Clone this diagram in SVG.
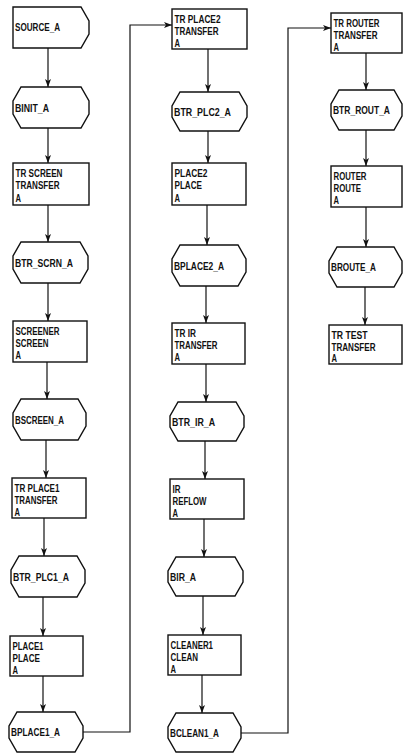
<svg xmlns="http://www.w3.org/2000/svg" width="403" height="754" viewBox="0 0 403 754">
<style>
.n{fill:#fff;stroke:#111;stroke-width:1.4}
.c{fill:none;stroke:#111;stroke-width:1.2}
text{font-family:"Liberation Sans",Arial,sans-serif;font-weight:bold;font-size:10.5px;fill:#111}
</style>
<defs>
<marker id="ah" markerUnits="userSpaceOnUse" markerWidth="9" markerHeight="7" refX="8" refY="3.5" orient="auto">
<path d="M0,0.5 L8,3.5 L0,6.5 L2,3.5 z" fill="#111"/>
</marker>
</defs>
<rect width="403" height="754" fill="#fff"/>
<g id="connectors" class="c" marker-end="url(#ah)">
<line x1="48" y1="48" x2="48" y2="87"/>
<line x1="48" y1="128" x2="48" y2="163"/>
<line x1="48" y1="205" x2="48" y2="242"/>
<line x1="48" y1="283" x2="48" y2="321"/>
<line x1="47" y1="362" x2="47" y2="399"/>
<line x1="46" y1="440" x2="46" y2="478"/>
<line x1="44" y1="518" x2="44" y2="556"/>
<line x1="43" y1="597" x2="43" y2="636"/>
<line x1="43" y1="676" x2="43" y2="712"/>
<line x1="208" y1="49" x2="208" y2="92"/>
<line x1="208" y1="131" x2="208" y2="163"/>
<line x1="207" y1="205" x2="207" y2="245"/>
<line x1="206" y1="286" x2="206" y2="323"/>
<line x1="206" y1="364" x2="206" y2="402"/>
<line x1="205" y1="441" x2="205" y2="479"/>
<line x1="204" y1="519" x2="204" y2="557"/>
<line x1="203" y1="596" x2="203" y2="635"/>
<line x1="202" y1="675" x2="202" y2="713"/>
<line x1="366" y1="53" x2="366" y2="90"/>
<line x1="366" y1="130" x2="366" y2="166"/>
<line x1="366" y1="207" x2="366" y2="247"/>
<line x1="365" y1="287" x2="365" y2="325"/>
<polyline points="83,732 130,732 130,25 172,25"/>
<polyline points="241,733 288,733 288,28 331,28"/>
</g>
<g id="SOURCE_A"><polygon class="n" points="13,7 81,7 89,21 89,34 81,48 13,48"/><text x="15" y="31" textLength="45" lengthAdjust="spacingAndGlyphs">SOURCE_A</text></g>
<g id="BINIT_A"><polygon class="n" points="21,87 81,87 89,101 89,114 81,128 21,128 13,114 13,101"/><text x="15" y="111.5" textLength="34" lengthAdjust="spacingAndGlyphs">BINIT_A</text></g>
<g id="TR_SCREEN"><rect class="n" x="13" y="163" width="76" height="42"/><text x="15.5" y="177" textLength="47" lengthAdjust="spacingAndGlyphs">TR SCREEN</text><text x="15.5" y="189" textLength="44" lengthAdjust="spacingAndGlyphs">TRANSFER</text><text x="15.5" y="201.5" textLength="5.5" lengthAdjust="spacingAndGlyphs">A</text></g>
<g id="BTR_SCRN_A"><polygon class="n" points="21,242 80,242 88,256 88,269 80,283 21,283 13,269 13,256"/><text x="15" y="266.5" textLength="58" lengthAdjust="spacingAndGlyphs">BTR_SCRN_A</text></g>
<g id="SCREENER"><rect class="n" x="13" y="321" width="74" height="41"/><text x="15.5" y="334.5" textLength="44" lengthAdjust="spacingAndGlyphs">SCREENER</text><text x="15.5" y="346.5" textLength="33" lengthAdjust="spacingAndGlyphs">SCREEN</text><text x="15.5" y="358.5" textLength="5.5" lengthAdjust="spacingAndGlyphs">A</text></g>
<g id="BSCREEN_A"><polygon class="n" points="21,399 78,399 86,413 86,426 78,440 21,440 13,426 13,413"/><text x="15" y="423.5" textLength="49" lengthAdjust="spacingAndGlyphs">BSCREEN_A</text></g>
<g id="TR_PLACE1"><rect class="n" x="12" y="478" width="74" height="40"/><text x="14.5" y="491.5" textLength="45" lengthAdjust="spacingAndGlyphs">TR PLACE1</text><text x="14.5" y="503.5" textLength="43" lengthAdjust="spacingAndGlyphs">TRANSFER</text><text x="14.5" y="515.5" textLength="5.5" lengthAdjust="spacingAndGlyphs">A</text></g>
<g id="BTR_PLC1_A"><polygon class="n" points="19,556 77,556 85,570 85,583 77,597 19,597 11,583 11,570"/><text x="13" y="580.5" textLength="56" lengthAdjust="spacingAndGlyphs">BTR_PLC1_A</text></g>
<g id="PLACE1"><rect class="n" x="10" y="636" width="73" height="40"/><text x="12.5" y="649.5" textLength="31" lengthAdjust="spacingAndGlyphs">PLACE1</text><text x="12.5" y="661.5" textLength="27.5" lengthAdjust="spacingAndGlyphs">PLACE</text><text x="12.5" y="673.5" textLength="5.5" lengthAdjust="spacingAndGlyphs">A</text></g>
<g id="BPLACE1_A"><polygon class="n" points="17,712 75,712 83,726 83,738 75,752 17,752 9,738 9,726"/><text x="11" y="736" textLength="49" lengthAdjust="spacingAndGlyphs">BPLACE1_A</text></g>
<g id="TR_PLACE2"><rect class="n" x="172" y="9" width="75" height="40"/><text x="174.5" y="22.5" textLength="46" lengthAdjust="spacingAndGlyphs">TR PLACE2</text><text x="174.5" y="34.5" textLength="44" lengthAdjust="spacingAndGlyphs">TRANSFER</text><text x="174.5" y="46.5" textLength="5.5" lengthAdjust="spacingAndGlyphs">A</text></g>
<g id="BTR_PLC2_A"><polygon class="n" points="180,92 239,92 247,106 247,117 239,131 180,131 172,117 172,106"/><text x="174" y="115.5" textLength="57" lengthAdjust="spacingAndGlyphs">BTR_PLC2_A</text></g>
<g id="PLACE2"><rect class="n" x="172" y="163" width="74" height="42"/><text x="174.5" y="177" textLength="33" lengthAdjust="spacingAndGlyphs">PLACE2</text><text x="174.5" y="189" textLength="27.5" lengthAdjust="spacingAndGlyphs">PLACE</text><text x="174.5" y="201.5" textLength="5.5" lengthAdjust="spacingAndGlyphs">A</text></g>
<g id="BPLACE2_A"><polygon class="n" points="180,245 238,245 246,259 246,272 238,286 180,286 172,272 172,259"/><text x="174" y="269.5" textLength="50" lengthAdjust="spacingAndGlyphs">BPLACE2_A</text></g>
<g id="TR_IR"><rect class="n" x="172" y="323" width="73" height="41"/><text x="174.5" y="336.5" textLength="21.5" lengthAdjust="spacingAndGlyphs">TR IR</text><text x="174.5" y="348.5" textLength="43" lengthAdjust="spacingAndGlyphs">TRANSFER</text><text x="174.5" y="360.5" textLength="5.5" lengthAdjust="spacingAndGlyphs">A</text></g>
<g id="BTR_IR_A"><polygon class="n" points="178,402 236,402 244,416 244,427 236,441 178,441 170,427 170,416"/><text x="172" y="425.5" textLength="43" lengthAdjust="spacingAndGlyphs">BTR_IR_A</text></g>
<g id="IR_REFLOW"><rect class="n" x="170" y="479" width="74" height="40"/><text x="172.5" y="492.5" textLength="8" lengthAdjust="spacingAndGlyphs">IR</text><text x="172.5" y="504.5" textLength="34" lengthAdjust="spacingAndGlyphs">REFLOW</text><text x="172.5" y="516.5" textLength="5.5" lengthAdjust="spacingAndGlyphs">A</text></g>
<g id="BIR_A"><polygon class="n" points="176,557 235,557 243,571 243,582 235,596 176,596 168,582 168,571"/><text x="170" y="580.5" textLength="26" lengthAdjust="spacingAndGlyphs">BIR_A</text></g>
<g id="CLEANER1"><rect class="n" x="168" y="635" width="73" height="40"/><text x="170.5" y="648.5" textLength="42.5" lengthAdjust="spacingAndGlyphs">CLEANER1</text><text x="170.5" y="660.5" textLength="27.5" lengthAdjust="spacingAndGlyphs">CLEAN</text><text x="170.5" y="672.5" textLength="5.5" lengthAdjust="spacingAndGlyphs">A</text></g>
<g id="BCLEAN1_A"><polygon class="n" points="176,713 233,713 241,727 241,738 233,752 176,752 168,738 168,727"/><text x="170" y="736.5" textLength="49" lengthAdjust="spacingAndGlyphs">BCLEAN1_A</text></g>
<g id="TR_ROUTER"><rect class="n" x="331" y="13" width="71" height="40"/><text x="333.5" y="26.5" textLength="46" lengthAdjust="spacingAndGlyphs">TR ROUTER</text><text x="333.5" y="38.5" textLength="44" lengthAdjust="spacingAndGlyphs">TRANSFER</text><text x="333.5" y="50.5" textLength="5.5" lengthAdjust="spacingAndGlyphs">A</text></g>
<g id="BTR_ROUT_A"><polygon class="n" points="339,90 394,90 402,104 402,116 394,130 339,130 331,116 331,104"/><text x="333" y="114" textLength="57" lengthAdjust="spacingAndGlyphs">BTR_ROUT_A</text></g>
<g id="ROUTER_ROUTE"><rect class="n" x="331" y="166" width="71" height="41"/><text x="333.5" y="179.5" textLength="33" lengthAdjust="spacingAndGlyphs">ROUTER</text><text x="333.5" y="191.5" textLength="27.5" lengthAdjust="spacingAndGlyphs">ROUTE</text><text x="333.5" y="203.5" textLength="5.5" lengthAdjust="spacingAndGlyphs">A</text></g>
<g id="BROUTE_A"><polygon class="n" points="337,247 394,247 402,261 402,273 394,287 337,287 329,273 329,261"/><text x="331" y="271" textLength="45" lengthAdjust="spacingAndGlyphs">BROUTE_A</text></g>
<g id="TR_TEST"><rect class="n" x="329" y="325" width="73" height="39"/><text x="331.5" y="338.5" textLength="36" lengthAdjust="spacingAndGlyphs">TR TEST</text><text x="331.5" y="350.5" textLength="44" lengthAdjust="spacingAndGlyphs">TRANSFER</text><text x="331.5" y="362" textLength="5.5" lengthAdjust="spacingAndGlyphs">A</text></g>
</svg>
